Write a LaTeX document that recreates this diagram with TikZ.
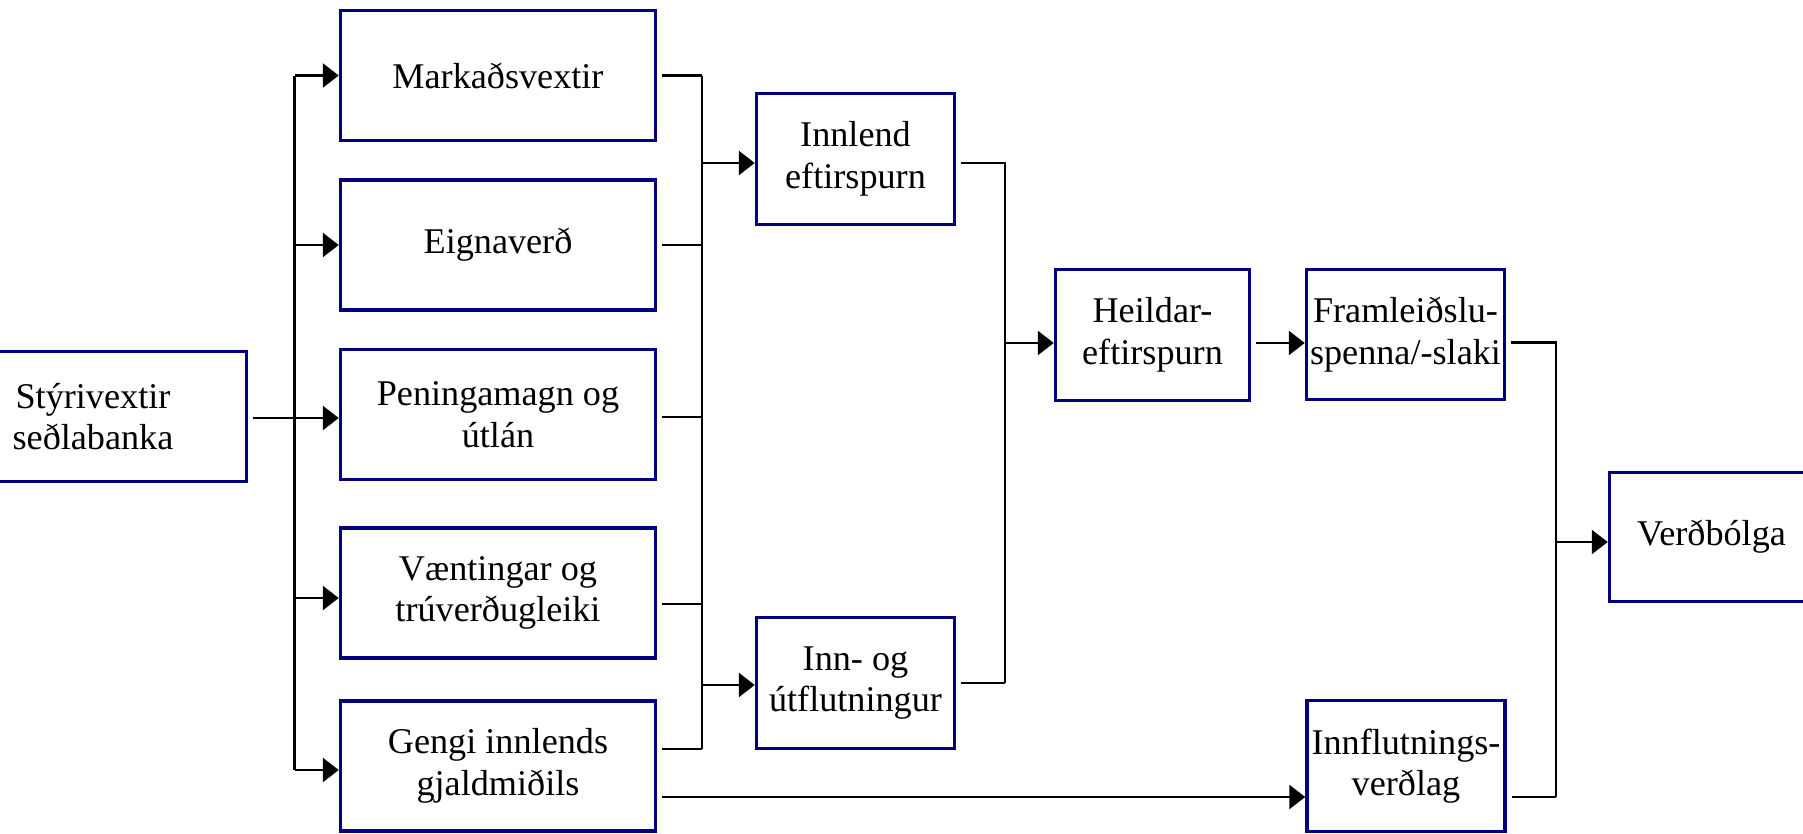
\documentclass[tikz,border=0pt]{standalone}
\usepackage{fontspec}
\setmainfont{Liberation Serif}
\usepackage{tikz}
\usetikzlibrary{arrows.meta}
\definecolor{boxblue}{RGB}{0,0,128}
\tikzstyle{box} = [rectangle, draw=boxblue, line width=2pt, inner sep=1pt, align=center, font=\fontsize{20.6}{23.6}\selectfont]
\tikzstyle{wide} = [box, minimum width=6.3cm, minimum height=2.6cm]
\tikzstyle{narrow} = [box, minimum width=3.96cm, minimum height=2.62cm]
\tikzstyle{link} = [line width=1.5pt]
\tikzstyle{arrow} = [link,->,>={Triangle[length=0.32cm,width=0.48cm]}]
\tikzstyle{gapped} = [shorten <=0.1cm]

\begin{document}
\begin{tikzpicture}[x=0.02cm, y=-0.02cm]
	\useasboundingbox (0,0) rectangle (1803,833);

	\node (policy) [wide, minimum width=6.14cm] at (93,416.5) {Stýrivextir\\seðlabanka};
	\node (market) [wide] at (498,75.5) {Markaðsvextir};
	\node (assets) [wide] at (498,245) {Eignaverð};
	\node (money) [wide] at (498,414.5) {Peningamagn og\\útlán};
	\node (expect) [wide] at (498,593) {Væntingar og\\trúverðugleiki};
	\node (exchange) [wide] at (498,766) {Gengi innlends\\gjaldmiðils};
	\node (domestic) [narrow] at (855.5,159) {Innlend\\eftirspurn};
	\node (trade) [narrow] at (855.5,683) {Inn- og\\útflutningur};
	\node (demand) [narrow, minimum width=3.88cm] at (1152.5,335) {Heildar-\\eftirspurn};
	\node (output) [narrow, minimum height=2.6cm] at (1405.5,334.5) {Framleiðslu-\\spenna/-slaki};
	\node (imports) [narrow] at (1406,766) {Innflutnings-\\verðlag};
	\node (inflation) [narrow, minimum width=4.08cm, minimum height=2.58cm] at (1711.5,537) {Verðbólga};

	\coordinate (lbus) at (294.5,0);
	\coordinate (rbus) at (702,0);
	\coordinate (mbus) at (1005,0);
	\coordinate (obus) at (1556,0);

	% policy rate into the five channels
	\draw [arrow, gapped] ([yshift=-0.03cm]policy.east) -- ([yshift=-0.03cm]policy.east -| money.west);
	\draw [link] (lbus |- market) -- ([yshift=-0.08cm]exchange.west -| lbus);
	\draw [arrow] (lbus |- market) -- (market);
	\draw [arrow] (lbus |- assets) -- (assets);
	\draw [arrow] ([yshift=-0.1cm]expect.west -| lbus) -- ([yshift=-0.1cm]expect.west);
	\draw [arrow] ([yshift=-0.08cm]exchange.west -| lbus) -- ([yshift=-0.08cm]exchange.west);

	% channels into demand
	\draw [link, gapped] (market) -- (market -| rbus);
	\draw [link, gapped] (assets) -- (assets -| rbus);
	\draw [link, gapped] ([yshift=-0.05cm]money.east) -- ([yshift=-0.05cm]money.east -| rbus);
	\draw [link, gapped] ([yshift=-0.22cm]expect.east) -- ([yshift=-0.22cm]expect.east -| rbus);
	\draw [link, gapped] ([yshift=0.34cm]exchange.east) -- ([yshift=0.34cm]exchange.east -| rbus);
	\draw [link] (market -| rbus) -- ([yshift=0.34cm]exchange.east -| rbus);
	\draw [arrow] ([yshift=-0.08cm]domestic.west -| rbus) -- ([yshift=-0.08cm]domestic.west);
	\draw [arrow] ([yshift=-0.04cm]trade.west -| rbus) -- ([yshift=-0.04cm]trade.west);

	\draw [link, gapped] ([yshift=-0.08cm]domestic.east) -- ([yshift=-0.08cm]domestic.east -| mbus) -- (trade -| mbus);
	\draw [link, gapped] (trade) -- (trade -| mbus);
	\draw [arrow] ([yshift=-0.16cm]demand.west -| mbus) -- ([yshift=-0.16cm]demand.west);
	\draw [arrow, gapped] ([yshift=-0.16cm]demand.east) -- ([yshift=-0.16cm]demand.east -| output.west);

	% import prices
	\draw [arrow, gapped] ([yshift=-0.62cm]exchange.east) -- ([yshift=-0.62cm]imports.west);

	% into inflation
	\draw [link, gapped] ([yshift=-0.16cm]output.east) -- ([yshift=-0.16cm]output.east -| obus) -- ([yshift=-0.62cm]imports.east -| obus);
	\draw [link, gapped] ([yshift=-0.62cm]imports.east) -- ([yshift=-0.62cm]imports.east -| obus);
	\draw [arrow] ([yshift=-0.1cm]inflation.west -| obus) -- ([yshift=-0.1cm]inflation.west);
\end{tikzpicture}
\end{document}
